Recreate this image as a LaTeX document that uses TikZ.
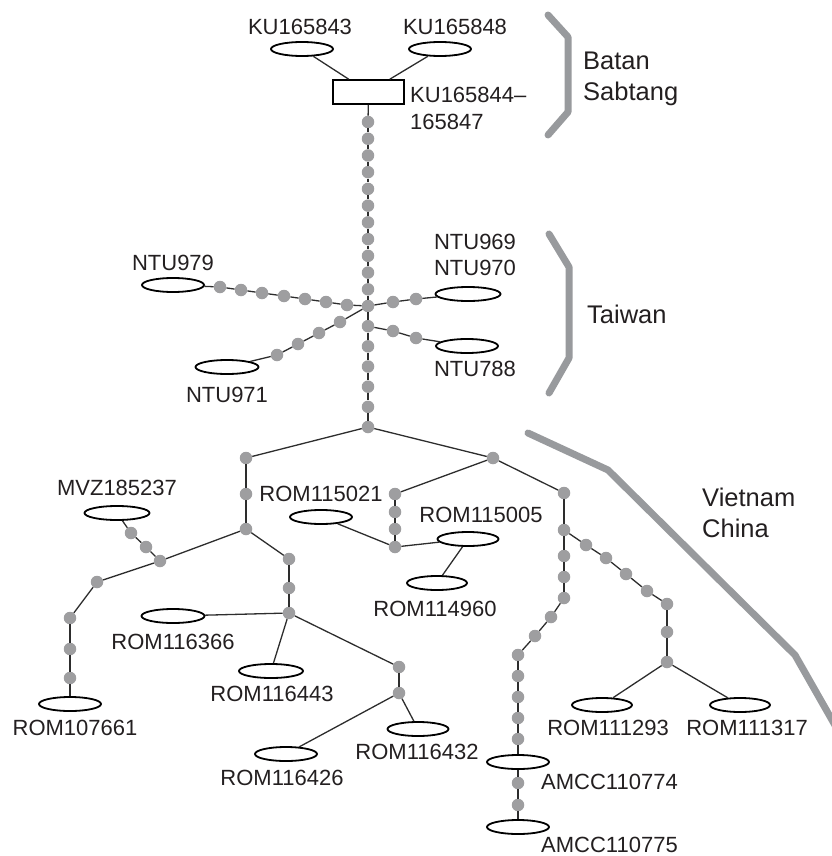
\documentclass[tikz,border=0pt]{standalone}
\usepackage{fontspec}
\setmainfont{Liberation Sans}
\usetikzlibrary{shapes.geometric}

\definecolor{dotgray}{RGB}{158,158,160}
\definecolor{bargray}{RGB}{152,154,157}
\definecolor{linkgray}{RGB}{45,45,45}
\definecolor{inkgray}{RGB}{35,31,32}

\begin{document}
\begin{tikzpicture}[x=1pt,y=-1pt,
  dot/.style={circle,fill=dotgray,draw=none,minimum size=12.5pt,inner sep=0pt},
  sample/.style={ellipse,draw=black,line width=1.8pt,fill=white,
    minimum width=62pt,minimum height=14pt,inner sep=0pt},
  multi/.style={rectangle,draw=black,line width=1.6pt,fill=white,
    minimum width=71pt,minimum height=24pt,inner sep=0pt},
  link/.style={draw=linkgray,line width=1.3pt},
  lbl/.style={font=\fontsize{22}{26.5}\selectfont,inner sep=0pt,text=inkgray},
  region/.style={font=\fontsize{25.5}{30.5}\selectfont,inner sep=0pt,
    align=left,anchor=west,text=inkgray},
  bar/.style={draw=bargray,line width=7pt,line cap=round,line join=round}]

\useasboundingbox (0,0) rectangle (831,856);

% ---------- region brackets ----------
\draw[bar] (548,15) -- (568,37) -- (568,112) -- (548,135);
\draw[bar] (549,234) -- (569,267) -- (569,358) -- (549,393);
\draw[bar] (528,433) -- (608,470) -- (795,655) -- (836,727);

\node[region] (rgBS) at (583,79) {Batan\\Sabtang};
\node[region] (rgTW) at (587,314) {Taiwan};
\node[region] (rgVC) at (702,513) {Vietnam\\China};

% ---------- Batan / Sabtang haplotypes ----------
\node[multi] (box) at (368.5,92) {};
\node[sample] (k843) at (302,49) {};
\node[sample] (k848) at (440,49) {};
\draw[link] (k843) -- (box);
\draw[link] (k848) -- (box);

% ---------- main trunk ----------
\foreach \i in {1,...,11}
  \node[dot] (t\i) at (368,{122+16.73*(\i-1)}) {};
\node[dot] (hub) at (368,306) {};
\foreach \i in {1,...,5}
  \node[dot] (u\i) at (368,{306+20.17*\i}) {};
\node[dot] (j0) at (368,427) {};

% ---------- Taiwan ----------
\foreach \n/\x/\y in {w1/220/287,w2/241/290,w3/262/293,w4/284/296,
    w5/305/299,w6/326/302,w7/347/305,
    a1/393/302,a2/416/299,
    b1/393/331,b2/416/338,
    c1/340/322,c2/319/333,c3/298/344,c4/277/355}
  \node[dot] (\n) at (\x,\y) {};
\node[sample] (n979) at (173,285) {};
\node[sample,minimum width=65pt] (n969) at (468,294) {};
\node[sample] (n788) at (467,346) {};
\node[sample,minimum width=63pt] (n971) at (227,367) {};

% ---------- Vietnam / China ----------
\foreach \n/\x/\y in {L1/246/458,L2/246/494,L3/246/529,
    M3/160/561,m1/146/547,m2/131/533,
    g1/97/582,g2/70/618,g3/70/649,g4/70/678,
    h1/289/559,h2/289/588,N/289/613,
    P1/399/667,P2/399/693,
    R1/493/458,q1/395/494,q2/395/512,q3/395/529,Q4/395/547,
    S1/564/493,S2/564/530,s1/564/556,s2/564/577,s3/564/598,
    s4/551/617,s5/535/636,s6/518/655,s7/518/676,s8/518/697,
    s9/518/718,s10/518/739,s11/518/783,s12/518/805,
    v1/586/545,v2/606/558,v3/626/574,v4/647/591,v5/667/604,
    v6/667/632,V/667/662}
  \node[dot] (\n) at (\x,\y) {};

\node[sample,minimum width=65pt] (mvz) at (117,513) {};
\node[sample] (r661) at (70,704) {};
\node[sample,minimum width=63pt] (r366) at (173,616) {};
\node[sample,minimum width=64pt] (r443) at (271,671) {};
\node[sample] (r426) at (286,754) {};
\node[sample,minimum width=61pt] (r432) at (418,729) {};
\node[sample] (r021) at (321,517) {};
\node[sample,minimum width=61pt] (r005) at (468,539) {};
\node[sample,minimum width=60pt] (r960) at (437,583) {};
\node[sample] (a774) at (518,762) {};
\node[sample] (a775) at (518,827) {};
\node[sample,minimum width=60pt] (r293) at (602,705) {};
\node[sample,minimum width=60pt] (r317) at (740,705) {};

% ---------- connectors (each from node border to node border) ----------
\foreach \a/\b in {box/t1,t1/t2,t2/t3,t3/t4,t4/t5,t5/t6,t6/t7,t7/t8,
    t8/t9,t9/t10,t10/t11,t11/hub,
    hub/u1,u1/u2,u2/u3,u3/u4,u4/u5,u5/j0,
    n979/w1,w1/w2,w2/w3,w3/w4,w4/w5,w5/w6,w6/w7,w7/hub,
    hub/a1,a1/a2,a2/n969,
    u1/b1,b1/b2,b2/n788,
    hub/c1,c1/c2,c2/c3,c3/c4,c4/n971,
    j0/L1,j0/R1,L1/L2,L2/L3,L3/M3,M3/m1,m1/m2,m2/mvz,
    M3/g1,g1/g2,g2/g3,g3/g4,g4/r661,
    L3/h1,h1/h2,h2/N,N/r366,N/r443,N/P1,P1/P2,P2/r426,P2/r432,
    R1/q1,q1/q2,q2/q3,q3/Q4,Q4/r005,r005/r960,r021/Q4,
    R1/S1,S1/S2,S2/s1,s1/s2,s2/s3,s3/s4,s4/s5,s5/s6,s6/s7,s7/s8,
    s8/s9,s9/s10,s10/a774,a774/s11,s11/s12,s12/a775,
    S2/v1,v1/v2,v2/v3,v3/v4,v4/v5,v5/v6,v6/V,V/r293,V/r317}
  \draw[link] (\a) -- (\b);

% ---------- specimen labels ----------
\node[lbl] (lk843) at (300,27) {KU165843};
\node[lbl] (lk848) at (455,27) {KU165848};
\node[lbl,align=left,anchor=west] (lbox) at (410,108.5) {KU165844–\\165847};
\node[lbl] (l979) at (173,263) {NTU979};
\node[lbl,align=center] (l969) at (475,255) {NTU969\\NTU970};
\node[lbl] (l788) at (475,369) {NTU788};
\node[lbl] (l971) at (227,395) {NTU971};
\node[lbl] (lmvz) at (117,488) {MVZ185237};
\node[lbl] (l661) at (75,728) {ROM107661};
\node[lbl] (l366) at (173,642) {ROM116366};
\node[lbl] (l443) at (272,694) {ROM116443};
\node[lbl] (l426) at (282,778) {ROM116426};
\node[lbl] (l432) at (417,752) {ROM116432};
\node[lbl] (l021) at (321,494) {ROM115021};
\node[lbl] (l005) at (481,515) {ROM115005};
\node[lbl] (l960) at (435,609) {ROM114960};
\node[lbl] (l293) at (608,728) {ROM111293};
\node[lbl] (l317) at (747,728) {ROM111317};
\node[lbl,anchor=west] (l774) at (541,782) {AMCC110774};
\node[lbl,anchor=west] (l775) at (541,845) {AMCC110775};
\end{tikzpicture}
\end{document}
